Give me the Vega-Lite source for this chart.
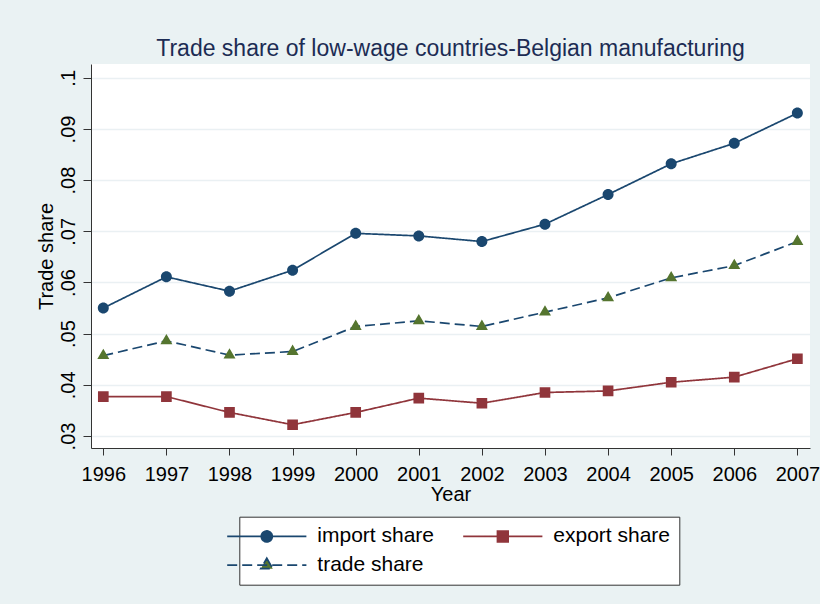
{
  "$schema": "https://vega.github.io/schema/vega-lite/v6.json",
  "width": 719,
  "height": 384,
  "autosize": {"type": "none"},
  "padding": {"left": 91, "top": 64, "right": 10, "bottom": 156},
  "background": "#eaf2f3",
  "config": {"view": {"fill": "white", "stroke": null}, "font": "Liberation Sans"},
  "title": {"text": "Trade share of low-wage countries-Belgian manufacturing", "fontSize": 23, "font": "Liberation Sans", "fontWeight": "normal", "color": "#1c2c54", "anchor": "middle", "frame": "group", "baseline": "alphabetic", "offset": -14.7},
  "data": {"values": [
    {"year": 1996, "series": "import share", "share": 0.0550},
    {"year": 1997, "series": "import share", "share": 0.0611},
    {"year": 1998, "series": "import share", "share": 0.0583},
    {"year": 1999, "series": "import share", "share": 0.0624},
    {"year": 2000, "series": "import share", "share": 0.0696},
    {"year": 2001, "series": "import share", "share": 0.0691},
    {"year": 2002, "series": "import share", "share": 0.0680},
    {"year": 2003, "series": "import share", "share": 0.0714},
    {"year": 2004, "series": "import share", "share": 0.0772},
    {"year": 2005, "series": "import share", "share": 0.0832},
    {"year": 2006, "series": "import share", "share": 0.0872},
    {"year": 2007, "series": "import share", "share": 0.0931},
    {"year": 1996, "series": "export share", "share": 0.0377},
    {"year": 1997, "series": "export share", "share": 0.0377},
    {"year": 1998, "series": "export share", "share": 0.0346},
    {"year": 1999, "series": "export share", "share": 0.0322},
    {"year": 2000, "series": "export share", "share": 0.0346},
    {"year": 2001, "series": "export share", "share": 0.0374},
    {"year": 2002, "series": "export share", "share": 0.0364},
    {"year": 2003, "series": "export share", "share": 0.0385},
    {"year": 2004, "series": "export share", "share": 0.0388},
    {"year": 2005, "series": "export share", "share": 0.0405},
    {"year": 2006, "series": "export share", "share": 0.0415},
    {"year": 2007, "series": "export share", "share": 0.0451},
    {"year": 1996, "series": "trade share", "share": 0.0457},
    {"year": 1997, "series": "trade share", "share": 0.0486},
    {"year": 1998, "series": "trade share", "share": 0.0458},
    {"year": 1999, "series": "trade share", "share": 0.0465},
    {"year": 2000, "series": "trade share", "share": 0.0514},
    {"year": 2001, "series": "trade share", "share": 0.0525},
    {"year": 2002, "series": "trade share", "share": 0.0514},
    {"year": 2003, "series": "trade share", "share": 0.0542},
    {"year": 2004, "series": "trade share", "share": 0.0570},
    {"year": 2005, "series": "trade share", "share": 0.0609},
    {"year": 2006, "series": "trade share", "share": 0.0633},
    {"year": 2007, "series": "trade share", "share": 0.0680}
  ]},
  "encoding": {
    "x": {
      "field": "year", "type": "quantitative",
      "scale": {"domain": [1995.805, 2007.2], "nice": false, "zero": false},
      "axis": {"values": [1996,1997,1998,1999,2000,2001,2002,2003,2004,2005,2006,2007], "format": "d", "title": "Year", "grid": false, "domainColor": "#333333", "tickColor": "#333333", "tickSize": 7, "labelFontSize": 20, "labelColor": "black", "labelPadding": 9, "labelFlush": false, "labelOverlap": false, "titleFontSize": 20, "titleFontWeight": "normal", "titleColor": "black", "titlePadding": 0}
    },
    "y": {
      "field": "share", "type": "quantitative",
      "scale": {"domain": [0.02765, 0.1027], "nice": false, "zero": false},
      "axis": {"values": [0.03,0.04,0.05,0.06,0.07,0.08,0.09,0.1], "labelExpr": "replace(format(datum.value, '.2~f'), '0.', '.')", "title": "Trade share", "grid": true, "gridColor": "#eaf0f3", "gridWidth": 1.5, "domainColor": "#333333", "tickColor": "#333333", "tickSize": 8, "labelFontSize": 20, "labelColor": "black", "labelAngle": 270, "labelAlign": "center", "labelBaseline": "alphabetic", "labelPadding": 8.7, "labelOverlap": false, "labelFlush": false, "titleFontSize": 20, "titleFontWeight": "normal", "titleColor": "black", "titlePadding": 2}
    }
  },
  "layer": [
    {
      "mark": {"type": "line", "strokeWidth": 1.7},
      "encoding": {
        "stroke": {"field": "series", "type": "nominal", "scale": {"domain": ["import share", "export share", "trade share"], "range": ["#1a476f", "#90353b", "#1a476f"]},
          "legend": {"title": null, "orient": "none", "legendX": 148.3, "legendY": 452.7, "direction": "horizontal", "columns": 2, "fillColor": "white", "strokeColor": "#333333", "padding": 9, "labelFontSize": 21, "labelColor": "black", "labelOffset": 40, "symbolOffset": 8, "symbolSize": 121, "symbolStrokeWidth": 1.7, "columnPadding": 25, "rowPadding": 7, "labelLimit": 300}},
        "strokeDash": {"field": "series", "type": "nominal", "scale": {"domain": ["import share", "export share", "trade share"], "range": [[1, 0], [1, 0], [10, 5]]},
          "legend": {"title": null, "orient": "none", "legendX": 148.3, "legendY": 452.7, "direction": "horizontal", "columns": 2, "fillColor": "white", "strokeColor": "#333333", "padding": 9, "labelFontSize": 21, "labelColor": "black", "labelOffset": 40, "symbolOffset": 8, "symbolSize": 121, "symbolStrokeWidth": 1.7, "columnPadding": 25, "rowPadding": 7, "labelLimit": 300}}
      }
    },
    {
      "mark": {"type": "point", "filled": true, "opacity": 1, "strokeWidth": 0, "size": 121},
      "encoding": {
        "fill": {"field": "series", "type": "nominal", "scale": {"domain": ["import share", "export share", "trade share"], "range": ["#1a476f", "#90353b", "#55752f"]},
          "legend": {"title": null, "orient": "none", "legendX": 148.3, "legendY": 452.7, "direction": "horizontal", "columns": 2, "fillColor": "white", "strokeColor": "#333333", "padding": 9, "labelFontSize": 21, "labelColor": "black", "labelOffset": 40, "symbolOffset": 8, "symbolSize": 121, "symbolStrokeWidth": 1.7, "columnPadding": 25, "rowPadding": 7, "labelLimit": 300}},
        "shape": {"field": "series", "type": "nominal", "scale": {"domain": ["import share", "export share", "trade share"], "range": ["M-7.2,0H7.2M1,0A1,1,0,1,1,-1,0A1,1,0,1,1,1,0Z", "M-7.2,0H7.2M-0.97,-0.97H0.97V0.97H-0.97Z", "M-7.2,0H7.2M0,-1.26L1.09,0.63L-1.09,0.63Z"]},
          "legend": {"title": null, "orient": "none", "legendX": 148.3, "legendY": 452.7, "direction": "horizontal", "columns": 2, "fillColor": "white", "strokeColor": "#333333", "padding": 9, "labelFontSize": 21, "labelColor": "black", "labelOffset": 40, "symbolOffset": 8, "symbolSize": 121, "symbolStrokeWidth": 1.7, "columnPadding": 25, "rowPadding": 7, "labelLimit": 300}}
      }
    }
  ]
}
